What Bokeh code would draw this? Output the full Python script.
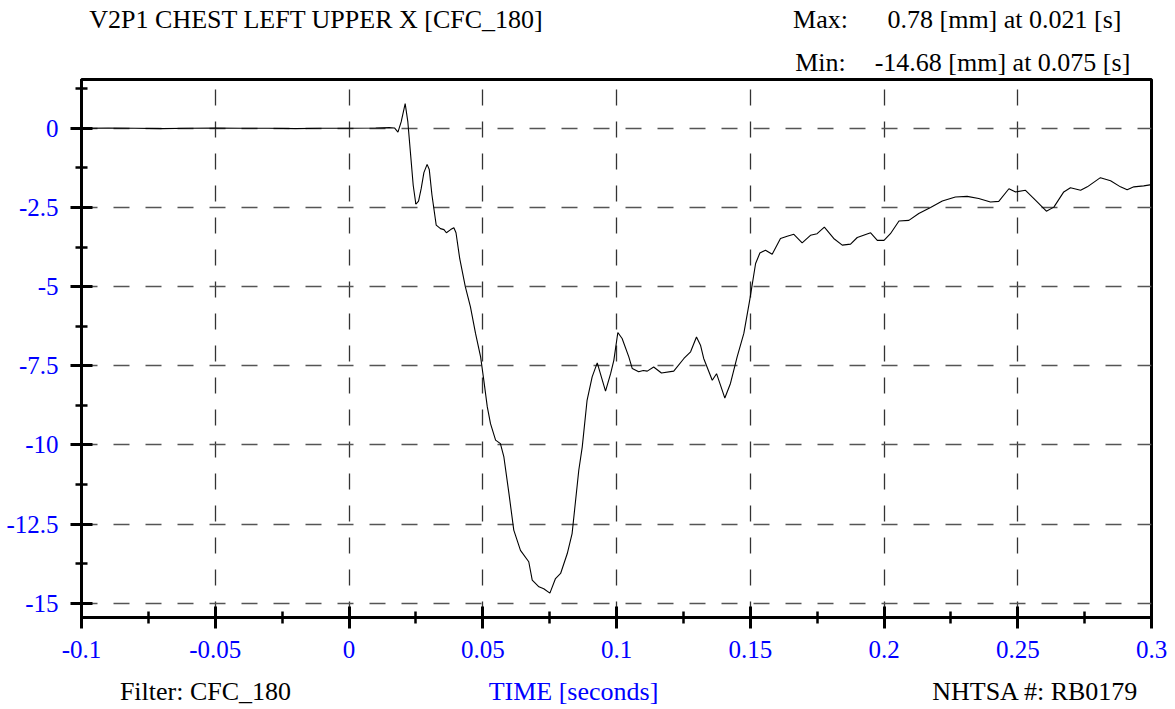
from bokeh.plotting import figure
from bokeh.models import Range1d, FixedTicker, LinearAxis, ColumnDataSource
from bokeh.embed import file_html
from bokeh.resources import INLINE

# ---------------- data ----------------
time_s = [
    -0.100, -0.090, -0.080, -0.070, -0.060, -0.050, -0.040, -0.030, -0.020, -0.010,
    0.000, 0.010, 0.015, 0.017, 0.0183, 0.0195, 0.021, 0.022, 0.023, 0.024,
    0.025, 0.026, 0.027, 0.028, 0.0292, 0.030, 0.031, 0.0326, 0.0342, 0.0355,
    0.0364, 0.0380, 0.0392, 0.0400, 0.0414, 0.0435, 0.0454, 0.0473, 0.0492, 0.0504,
    0.0517, 0.0529, 0.0548, 0.0566, 0.0579, 0.0598, 0.0616, 0.0641, 0.0672, 0.0685,
    0.0710, 0.0728, 0.0751, 0.0772, 0.0791, 0.0816, 0.0834, 0.0859, 0.0872, 0.0890,
    0.0909, 0.0928, 0.0959, 0.0978, 0.0990, 0.1005, 0.1021, 0.1046, 0.1059, 0.1083,
    0.1100, 0.1115, 0.1139, 0.1168, 0.1214, 0.1252, 0.1277, 0.1299, 0.1314, 0.1326,
    0.1358, 0.1374, 0.1389, 0.1405, 0.1426, 0.1451, 0.1476, 0.1498, 0.1520, 0.1536,
    0.1557, 0.1582, 0.1613, 0.1638, 0.1663, 0.1694, 0.1725, 0.1750, 0.1777, 0.1812,
    0.1844, 0.1875, 0.1900, 0.1950, 0.1975, 0.2000, 0.2024, 0.2056, 0.2093, 0.2130,
    0.2174, 0.2218, 0.2267, 0.2311, 0.2354, 0.2398, 0.2429, 0.2467, 0.2492, 0.2529,
    0.2566, 0.2607, 0.2635, 0.2672, 0.2697, 0.2735, 0.2760, 0.2809, 0.2847, 0.2884,
    0.2909, 0.2934, 0.2971, 0.3000,
]
disp_mm = [
    0.00, 0.01, 0.00, -0.01, 0.00, 0.01, 0.00, 0.00, -0.01, 0.00,
    0.00, 0.01, 0.02, 0.01, -0.12, 0.20, 0.78, 0.20, -0.80, -1.80,
    -2.40, -2.30, -1.90, -1.40, -1.14, -1.30, -2.10, -3.06, -3.17, -3.20,
    -3.30, -3.20, -3.14, -3.30, -4.12, -5.01, -5.64, -6.48, -7.22, -7.96,
    -8.80, -9.33, -9.85, -9.96, -10.38, -11.54, -12.69, -13.33, -13.69, -14.27,
    -14.48, -14.54, -14.68, -14.22, -14.06, -13.43, -12.80, -10.80, -10.06, -8.59,
    -7.85, -7.41, -8.30, -7.75, -7.33, -6.45, -6.64, -7.22, -7.59, -7.69,
    -7.65, -7.67, -7.54, -7.73, -7.67, -7.27, -7.06, -6.59, -6.85, -7.27,
    -7.96, -7.75, -8.12, -8.52, -8.06, -7.22, -6.48, -5.43, -4.27, -3.94,
    -3.85, -3.98, -3.48, -3.41, -3.35, -3.62, -3.38, -3.33, -3.12, -3.48,
    -3.69, -3.66, -3.45, -3.30, -3.54, -3.54, -3.33, -2.93, -2.91, -2.69,
    -2.50, -2.30, -2.17, -2.15, -2.22, -2.33, -2.31, -1.91, -2.01, -1.96,
    -2.27, -2.62, -2.49, -2.01, -1.88, -1.96, -1.85, -1.56, -1.66, -1.85,
    -1.94, -1.85, -1.82, -1.78,
]

x_ticks = [-0.1, -0.05, 0.0, 0.05, 0.1, 0.15, 0.2, 0.25, 0.3]
x_tick_labels = ["-0.1", "-0.05", "0", "0.05", "0.1", "0.15", "0.2", "0.25", "0.3"]
x_minor_ticks = [-0.075, -0.025, 0.025, 0.075, 0.125, 0.175, 0.225, 0.275]
y_ticks = [0.0, -2.5, -5.0, -7.5, -10.0, -12.5, -15.0]
y_tick_labels = ["0", "-2.5", "-5", "-7.5", "-10", "-12.5", "-15"]
y_minor_ticks = [1.25, -1.25, -3.75, -6.25, -8.75, -11.25, -13.75]

title_text = "V2P1 CHEST LEFT UPPER X [CFC_180]"
max_label = "Max:"
max_text = "0.78 [mm] at 0.021 [s]"
min_label = "Min:"
min_text = "-14.68 [mm] at 0.075 [s]"
filter_text = "Filter: CFC_180"
xlabel_text = "TIME [seconds]"
id_text = "NHTSA #: RB0179"

# ---------------- layout ----------------
W, H = 1175, 709
LEFT, RIGHT, TOP, BOTTOM = 81, 24, 79, 92
X0, X1 = -0.1, 0.3
Y0, Y1 = -15.45, 1.54

FONT = "Liberation Serif"
BLUE = "#0000ff"

p = figure(width=W, height=H, output_backend="svg", toolbar_location=None,
           x_range=Range1d(X0, X1), y_range=Range1d(Y0, Y1),
           min_border_left=LEFT, min_border_right=RIGHT,
           min_border_top=TOP, min_border_bottom=BOTTOM)
p.background_fill_color = "white"
p.border_fill_color = "white"
p.outline_line_color = "black"
p.outline_line_width = 3

src = ColumnDataSource(dict(t=time_s, v=disp_mm))
p.line("t", "v", source=src, line_color="black", line_width=1.1)

for ax, ticks, minor, labels in ((p.xaxis[0], x_ticks, x_minor_ticks, x_tick_labels),
                                 (p.yaxis[0], y_ticks, y_minor_ticks, y_tick_labels)):
    ax.ticker = FixedTicker(ticks=ticks, minor_ticks=minor)
    ax.major_label_overrides = {t: l for t, l in zip(ticks, labels)}
    ax.axis_line_width = 3
    ax.axis_line_color = "black"
    ax.major_tick_line_width = 3
    ax.minor_tick_line_width = 2.5
    ax.major_tick_in = 11
    ax.major_tick_out = 11
    ax.minor_tick_in = 6
    ax.minor_tick_out = 6
    ax.major_label_text_font = FONT
    ax.major_label_text_font_size = "25px"
    ax.major_label_text_color = BLUE

p.xaxis.major_label_standoff = 12
p.yaxis.major_label_standoff = 12
p.yaxis.major_label_orientation = "horizontal"

p.xgrid.grid_line_color = "#333333"
p.xgrid.grid_line_dash = "16 16"
p.xgrid.grid_line_width = 1.3
p.ygrid.grid_line_color = "#555555"
p.ygrid.grid_line_dash = "16 16"
p.ygrid.grid_line_width = 1.3


def dx(page_x):
    return X0 + (page_x - LEFT) / (W - LEFT - RIGHT) * (X1 - X0)


def text_axis(centers, labels, color, standoff, side):
    ticks = [dx(c) for c in centers]
    ax = LinearAxis(ticker=FixedTicker(ticks=ticks),
                    major_label_overrides={t: l for t, l in zip(ticks, labels)},
                    axis_line_color=None, major_tick_line_color=None,
                    minor_tick_line_color=None,
                    major_tick_in=0, major_tick_out=0,
                    minor_tick_in=0, minor_tick_out=0,
                    major_label_standoff=standoff,
                    major_label_text_font=FONT,
                    major_label_text_font_size="26px",
                    major_label_text_color=color)
    p.add_layout(ax, side)
    return ax


# header rows (first added sits nearest the frame)
text_axis([820, 1002], [min_label, min_text], "black", 3, "above")
text_axis([316, 820, 1004], [title_text, max_label, max_text], "black", 11, "above")

# footer row
text_axis([205, 1035], [filter_text, id_text], "black", 16, "below")
text_axis([573], [xlabel_text], BLUE, -32, "below")

open("out.html", "w").write(file_html(p, INLINE))
